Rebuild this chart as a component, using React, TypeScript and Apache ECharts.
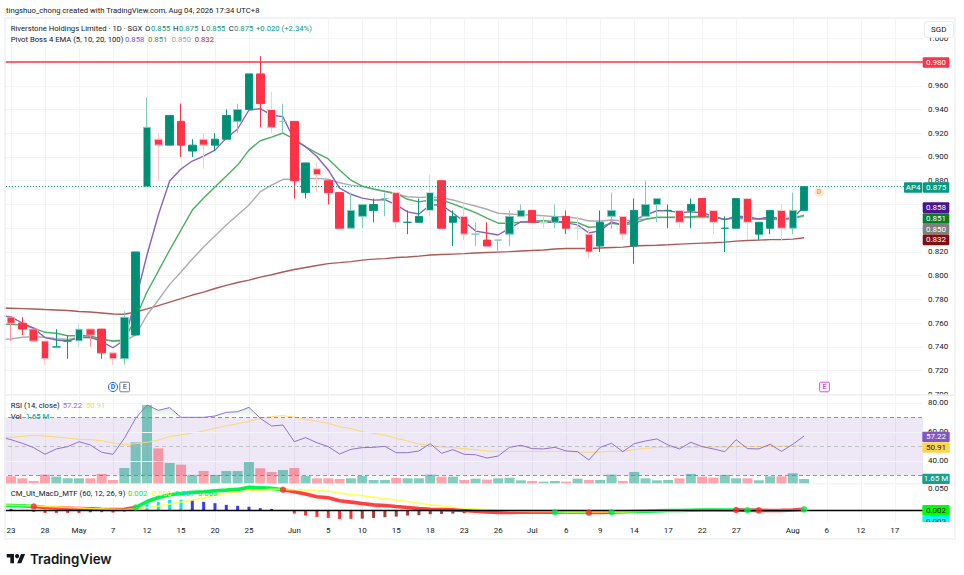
import { useEffect, useRef } from "react";
import * as echarts from "echarts";

const FONT = 'Roboto, "Noto Sans", sans-serif';
const INK = "#131722";
const GRID_LINE = "#f3f4f6";
const FRAME = "#f0f1f4";
const UP = "#008f75";
const DOWN = "#ff3347";
const UP_WICKS = ["#bfe5df", "#7fccbf", "#089981"];
const DOWN_WICKS = ["#ffc9cf", "#ff929d", "#ff3347"];

// the canvas starts this far left of the page, so the lead-in session can hang off the edge
const BLEED = 6;

// category 0 is the session just left of the window, only the lines reach into it
const xTickIndex = [1, 4, 7, 10, 13, 16, 19, 22, 26, 29, 32, 35, 38, 41, 44, 47, 50, 53, 56, 59, 62, 65, 70, 73, 76, 79];
const xTickLabels = ["23", "28", "May", "7", "12", "15", "20", "25", "Jun", "5", "10", "15", "18", "23", "26", "Jul", "6", "9", "14", "17", "22", "27", "Aug", "6", "12", "17"];
const categories = Array.from({ length: 82 }, (_, i) => {
  const at = xTickIndex.indexOf(i);
  return at >= 0 ? xTickLabels[at] : "";
});

const opens = [0.765, 0.76, 0.755, 0.745, 0.74, 0.745, 0.745, 0.755, 0.755, 0.735, 0.73, 0.75, 0.875, 0.915, 0.91, 0.93, 0.905, 0.915, 0.91, 0.915, 0.93, 0.94, 0.97, 0.94, 0.93, 0.93, 0.87, 0.89, 0.88, 0.87, 0.84, 0.85, 0.855, 0.865, 0.87, 0.845, 0.845, 0.855, 0.88, 0.845, 0.85, 0.835, 0.83, 0.83, 0.835, 0.85, 0.855, 0.845, 0.845, 0.85, 0.84, 0.835, 0.825, 0.85, 0.85, 0.825, 0.85, 0.86, 0.855, 0.855, 0.855, 0.865, 0.855, 0.84, 0.84, 0.865, 0.835, 0.84, 0.855, 0.84, 0.855];
const closes = [0.76, 0.755, 0.745, 0.73, 0.74, 0.745, 0.755, 0.75, 0.735, 0.73, 0.765, 0.82, 0.925, 0.91, 0.935, 0.91, 0.91, 0.91, 0.915, 0.935, 0.94, 0.97, 0.945, 0.925, 0.93, 0.88, 0.895, 0.885, 0.87, 0.84, 0.855, 0.86, 0.86, 0.865, 0.845, 0.845, 0.85, 0.87, 0.84, 0.85, 0.835, 0.835, 0.825, 0.83, 0.85, 0.855, 0.845, 0.845, 0.85, 0.84, 0.84, 0.82, 0.845, 0.855, 0.835, 0.855, 0.86, 0.865, 0.855, 0.845, 0.86, 0.85, 0.845, 0.84, 0.865, 0.845, 0.845, 0.855, 0.84, 0.855, 0.875];
const lows = [0.745, 0.75, 0.745, 0.725, 0.74, 0.73, 0.74, 0.74, 0.73, 0.725, 0.725, 0.75, 0.875, 0.88, 0.91, 0.9, 0.9, 0.89, 0.905, 0.915, 0.92, 0.94, 0.925, 0.92, 0.92, 0.865, 0.865, 0.87, 0.86, 0.84, 0.84, 0.84, 0.845, 0.85, 0.84, 0.835, 0.845, 0.85, 0.84, 0.825, 0.83, 0.825, 0.825, 0.82, 0.825, 0.85, 0.845, 0.84, 0.84, 0.835, 0.83, 0.815, 0.82, 0.84, 0.83, 0.81, 0.85, 0.845, 0.84, 0.84, 0.84, 0.85, 0.835, 0.82, 0.84, 0.83, 0.83, 0.835, 0.83, 0.835, 0.855];
const highs = [0.765, 0.765, 0.755, 0.745, 0.755, 0.75, 0.76, 0.755, 0.755, 0.735, 0.77, 0.82, 0.95, 0.92, 0.935, 0.945, 0.915, 0.92, 0.92, 0.94, 0.945, 0.97, 0.985, 0.955, 0.945, 0.93, 0.895, 0.895, 0.88, 0.87, 0.87, 0.86, 0.865, 0.87, 0.87, 0.855, 0.865, 0.885, 0.88, 0.855, 0.86, 0.845, 0.845, 0.83, 0.855, 0.86, 0.855, 0.85, 0.86, 0.855, 0.85, 0.84, 0.855, 0.87, 0.85, 0.865, 0.88, 0.865, 0.86, 0.855, 0.865, 0.865, 0.855, 0.85, 0.865, 0.865, 0.845, 0.855, 0.86, 0.87, 0.875];
// how strong each wick prints in the picture: 0 pale, 1 medium, 2 full colour
const wickTone = [1, 2, 1, 0, 2, 2, 0, 1, 2, 0, 1, 2, 1, 0, 2, 2, 2, 0, 2, 2, 1, 2, 2, 0, 1, 2, 2, 0, 2, 2, 1, 1, 2, 1, 0, 2, 2, 0, 2, 2, 0, 1, 2, 1, 1, 1, 2, 0, 1, 2, 0, 0, 2, 1, 0, 2, 1, 1, 2, 0, 2, 2, 0, 2, 2, 0, 2, 2, 0, 1, 2];
const volumes = [2.67, 1.9, 0.89, 3.3, 2.54, 1.9, 1.9, 1.9, 3.56, 1.27, 5.84, 15.6, 29.8, 13.3, 7.75, 7.11, 3.18, 4.7, 3.18, 4.7, 4.7, 8.51, 5.72, 4.32, 5.08, 5.84, 2.79, 1.9, 1.9, 1.65, 1.9, 2.79, 1.27, 1.27, 2.03, 1.9, 1.9, 3.3, 2.54, 2.54, 1.27, 1.78, 1.4, 1.9, 2.16, 1.14, 0.89, 0.64, 0.89, 0.64, 1.78, 1.27, 1.27, 3.3, 0.89, 4.32, 1.9, 1.14, 1.27, 1.9, 3.56, 2.54, 2.16, 3.18, 1.9, 1.9, 1.14, 2.67, 2.67, 3.81, 1.65];

const ema5 = [0.7665, 0.7653, 0.76, 0.7559, 0.7478, 0.7458, 0.745, 0.7478, 0.7483, 0.7444, 0.7393, 0.7458, 0.7795, 0.8174, 0.8511, 0.8797, 0.8899, 0.8966, 0.9008, 0.9058, 0.9159, 0.9236, 0.9396, 0.9407, 0.9353, 0.9339, 0.9143, 0.9087, 0.9004, 0.8891, 0.8738, 0.8686, 0.8654, 0.8637, 0.864, 0.8596, 0.8538, 0.852, 0.8596, 0.8596, 0.8528, 0.8456, 0.8376, 0.836, 0.8343, 0.8401, 0.8453, 0.8451, 0.8448, 0.8453, 0.8445, 0.8428, 0.836, 0.838, 0.8453, 0.8428, 0.847, 0.8511, 0.8547, 0.8547, 0.8531, 0.8539, 0.8528, 0.8503, 0.847, 0.8503, 0.8495, 0.8479, 0.8495, 0.8479, 0.8487, 0.858];
const ema10 = [0.7592, 0.759, 0.7584, 0.7559, 0.7523, 0.7515, 0.7494, 0.7494, 0.7494, 0.7464, 0.745, 0.7458, 0.7643, 0.7863, 0.8039, 0.8216, 0.8384, 0.8553, 0.8654, 0.8747, 0.8839, 0.8932, 0.9058, 0.9137, 0.9168, 0.9202, 0.9151, 0.9085, 0.9033, 0.8984, 0.8891, 0.8805, 0.8755, 0.8732, 0.8711, 0.8694, 0.8644, 0.8622, 0.8638, 0.8638, 0.8605, 0.8568, 0.8531, 0.8485, 0.8442, 0.8442, 0.8451, 0.8461, 0.8463, 0.8458, 0.8455, 0.8447, 0.8408, 0.8413, 0.8442, 0.8428, 0.8442, 0.8475, 0.8492, 0.8492, 0.8492, 0.8497, 0.8503, 0.8497, 0.8475, 0.8492, 0.8486, 0.8479, 0.8484, 0.8475, 0.8484, 0.851];
const ema20 = [0.7465, 0.7467, 0.7481, 0.7486, 0.7481, 0.7469, 0.7464, 0.7481, 0.7475, 0.7464, 0.745, 0.745, 0.7499, 0.7669, 0.7795, 0.7927, 0.8031, 0.814, 0.8242, 0.8334, 0.8427, 0.8511, 0.8595, 0.8708, 0.8763, 0.8812, 0.8814, 0.8817, 0.882, 0.8812, 0.8783, 0.8763, 0.875, 0.8728, 0.8708, 0.8688, 0.8665, 0.866, 0.8663, 0.8657, 0.8638, 0.8611, 0.8587, 0.856, 0.8526, 0.852, 0.8514, 0.8511, 0.8505, 0.8497, 0.8497, 0.8484, 0.8461, 0.8461, 0.8469, 0.8461, 0.8469, 0.8478, 0.8489, 0.8489, 0.8492, 0.8489, 0.8492, 0.8489, 0.8475, 0.8484, 0.8478, 0.8475, 0.8475, 0.8469, 0.8484, 0.85];
const ema100 = [0.7728, 0.7726, 0.7723, 0.772, 0.7715, 0.7711, 0.7707, 0.7698, 0.7694, 0.7686, 0.7677, 0.7675, 0.7694, 0.772, 0.7748, 0.7778, 0.7807, 0.7837, 0.7862, 0.7892, 0.7918, 0.7943, 0.7963, 0.7988, 0.8008, 0.8031, 0.8052, 0.8069, 0.8086, 0.8102, 0.811, 0.8119, 0.8131, 0.814, 0.8144, 0.8153, 0.8157, 0.8165, 0.8174, 0.8178, 0.8182, 0.8186, 0.8191, 0.8195, 0.8199, 0.8203, 0.8208, 0.8212, 0.8216, 0.8225, 0.8229, 0.8229, 0.8229, 0.8233, 0.8237, 0.8241, 0.825, 0.8254, 0.8257, 0.8261, 0.8266, 0.827, 0.8274, 0.8278, 0.8283, 0.8291, 0.8296, 0.83, 0.8304, 0.8304, 0.8308, 0.832];

const rsi = [56.5, 54.7, 52.2, 49.2, 44.6, 48.3, 49.9, 53.3, 51, 46, 44.6, 55.6, 69.4, 78.6, 74.9, 76.8, 70.1, 70.1, 70.1, 71, 73.5, 74, 77, 69.4, 64.1, 64.8, 53.3, 56.1, 52.6, 49.9, 44.8, 48, 49.2, 49.4, 50.1, 45.7, 45.7, 46.9, 51.9, 45.3, 47.8, 44.6, 44.3, 42, 43.4, 49.4, 50.8, 48.5, 48.3, 49.4, 46.9, 46.4, 40.7, 49.4, 52.2, 46.4, 51.9, 53.8, 55.2, 51, 48.3, 52.9, 49.9, 48.3, 46.4, 54.7, 48.5, 48.3, 51.5, 46.6, 51.5, 57.22];
const rsiMa = [56, 56.3, 57, 57.7, 57.2, 56.5, 55.8, 54.9, 54.7, 54, 52.4, 51.2, 51.9, 52.9, 54.5, 56.8, 57.9, 59.3, 60.7, 62.5, 64.3, 65.7, 67.3, 69.4, 70.6, 71.2, 70.3, 68.7, 67.3, 66, 63.7, 62.3, 60.2, 59, 57.9, 55.6, 53.8, 51.7, 50.8, 49.6, 49.2, 48.5, 47.8, 46.9, 46.6, 46.6, 46.6, 46.6, 46.6, 46.6, 46.6, 46.2, 46, 46.2, 46.6, 46.6, 47.8, 48.7, 49.4, 49.4, 49.4, 49.4, 49.6, 49.6, 49.6, 49.9, 49.9, 49.9, 50.1, 50.1, 50.3, 50.91];

const macd = [0.0115, 0.011, 0.0102, 0.0086, 0.0063, 0.0055, 0.0047, 0.0039, 0.0031, 0.0023, 0.0016, 0.0023, 0.0063, 0.0203, 0.0297, 0.036, 0.0391, 0.0415, 0.043, 0.0454, 0.0469, 0.0485, 0.0532, 0.0524, 0.0509, 0.0477, 0.043, 0.0376, 0.0313, 0.029, 0.0219, 0.0188, 0.0156, 0.0125, 0.011, 0.0086, 0.0063, 0.0039, 0.0023, 0.0016, 0.0008, -0.0008, -0.0023, -0.0039, -0.0055, -0.0055, -0.0047, -0.0047, -0.0047, -0.0047, -0.0047, -0.0047, -0.0055, -0.0055, -0.0047, -0.0039, -0.0031, -0.0023, -0.0016, -0.0008, -0.0008, 0, 0.0004, 0.0006, 0.0006, 0.0004, 0, -0.0004, -0.0006, -0.0004, 0.0006, 0.002];
const macdSignal = [0.012, 0.0117, 0.011, 0.0102, 0.0086, 0.0078, 0.0063, 0.0055, 0.0039, 0.0031, 0.0023, 0.0016, 0.0031, 0.0063, 0.0094, 0.0141, 0.0188, 0.0235, 0.0282, 0.0352, 0.0391, 0.0423, 0.0454, 0.0469, 0.0485, 0.0485, 0.0477, 0.0469, 0.0462, 0.0446, 0.0399, 0.0368, 0.0336, 0.0305, 0.0266, 0.0235, 0.0203, 0.0164, 0.0125, 0.0094, 0.007, 0.0047, 0.0031, 0.0016, 0, -0.0016, -0.0023, -0.0031, -0.0031, -0.0031, -0.0039, -0.0039, -0.0039, -0.0039, -0.0039, -0.0039, -0.0031, -0.0023, -0.0023, -0.0016, -0.0016, -0.0008, -0.0008, -0.0008, 0, 0, 0, 0, 0, 0, 0, 0];
const macdHist = [0.0035, 0.003, 0.0005, -0.0039, -0.0063, -0.0063, -0.0063, -0.0063, -0.0047, -0.0047, -0.0055, -0.0031, 0.0086, 0.0141, 0.0196, 0.0243, 0.0243, 0.0235, 0.0196, 0.0164, 0.0125, 0.0102, 0.0078, 0.0047, 0.0031, 0, -0.0078, -0.0125, -0.0156, -0.018, -0.0203, -0.0203, -0.0196, -0.018, -0.0164, -0.0149, -0.0125, -0.0117, -0.0094, -0.0086, -0.0078, -0.007, -0.0063, -0.0063, -0.0078, -0.0055, -0.0031, -0.0008, -0.0005, 0.0003, 0.0004, 0.0003, -0.0004, 0.0002, 0.0004, 0.0003, 0.0005, 0.0004, 0.0005, 0.0008, 0.0004, 0.0008, 0.0005, 0.0004, 0.0002, -0.0003, 0.0003, -0.0003, -0.0002, 0.0001, 0.0005, 0.001];
const macdCrossIndex = [3, 12, 25, 49, 52, 54, 65, 66, 67, 71];
const macdCrossUp = [false, true, false, true, false, true, false, true, false, true];

// these price ticks sit right behind a tag on the axis
const hiddenPriceTicks = ["0.980", "0.860", "0.840"];

echarts.graphic.registerShape(
  "tvlogo",
  echarts.graphic.extendPath("M14 22H7V11H0V4h14v18zM28 22h-8l7.5-18h8L28 22z", {}),
);

function priceTag(x: number, y: number, w: number, h: number, fill: string, label: string, color = "#fff") {
  return [
    { type: "rect", z: 100, shape: { x, y, width: w, height: h, r: 1 }, style: { fill } },
    {
      type: "text",
      z: 101,
      x: x + w / 2,
      y: y + h / 2,
      style: { text: label, fill: color, font: `8px ${FONT}`, align: "center", verticalAlign: "middle" },
    },
  ];
}

function legendText(x: number, y: number, text: string, fill = INK) {
  return {
    type: "text",
    z: 90,
    x,
    y,
    style: { text, fill, font: `7.7px ${FONT}`, verticalAlign: "middle" },
  };
}

function badge(x: number, y: number, label: string, stroke: string, round: boolean) {
  const shape = round
    ? { type: "circle", shape: { cx: x, cy: y, r: 4.6 }, style: { fill: "#fff", stroke, lineWidth: 1 }, z: 80 }
    : { type: "rect", shape: { x: x - 4.8, y: y - 4.8, width: 9.6, height: 9.6, r: 1 }, style: { fill: "#fff", stroke, lineWidth: 1 }, z: 80 };
  return [
    shape,
    { type: "text", z: 81, x, y, style: { text: label, fill: stroke, font: `bold 7px ${FONT}`, align: "center", verticalAlign: "middle" } },
  ];
}

// drawn in page coordinates, the group below moves it by BLEED
const overlay = [
  // left gutter, the panes start at x = 5
  { type: "rect", z: 60, shape: { x: -BLEED, y: 14, width: BLEED + 4.4, height: 530 }, style: { fill: "#fff" } },
  // the 0.700 label is cut by the pane edge
  { type: "rect", z: 60, shape: { x: 924, y: 395.4, width: 30, height: 3.2 }, style: { fill: "#fff" } },
  { type: "rect", z: 61, shape: { x: 5, y: 18, width: 950, height: 521 }, style: { fill: "none", stroke: FRAME, lineWidth: 1.5 } },
  { type: "line", z: 61, shape: { x1: 5, y1: 395, x2: 955, y2: 395 }, style: { stroke: FRAME, lineWidth: 1.5 } },
  { type: "line", z: 0, shape: { x1: 5, y1: 483.8, x2: 955, y2: 483.8 }, style: { stroke: FRAME, lineWidth: 1 } },

  legendText(6, 10.5, "tingshuo_chong created with TradingView.com, Aug 04, 2026 17:34 UTC+8"),

  legendText(10.7, 28, "Riverstone Holdings Limited · 1D · SGX"),
  legendText(145, 28, "O"), legendText(151, 28, "0.855", "#089981"),
  legendText(173, 28, "H"), legendText(179, 28, "0.875", "#089981"),
  legendText(201.5, 28, "L"), legendText(206, 28, "0.855", "#089981"),
  legendText(228.7, 28, "C"), legendText(234, 28, "0.875", "#089981"),
  legendText(256, 28, "+0.020 (+2.34%)", "#089981"),

  legendText(10.7, 39, "Pivot Boss 4 EMA (5, 10, 20, 100)"),
  legendText(125, 39, "0.858", "#7e57c2"),
  legendText(148, 39, "0.851", "#2e9e4f"),
  legendText(171.7, 39, "0.850", "#a6a6a6"),
  legendText(194.7, 39, "0.832", "#a83232"),

  legendText(10.7, 405.5, "RSI (14, close)"),
  legendText(62.7, 405.5, "57.22", "#8e6fd0"),
  legendText(86, 405.5, "50.91", "#f9d65c"),
  legendText(10.7, 416, "Vol"),
  legendText(25.7, 416, "1.65 M", "#089981"),

  legendText(10.7, 493, "CM_Ult_MacD_MTF (60, 12, 26, 9)"),
  legendText(128, 493, "0.002", "#00e84a"),
  legendText(152, 493, "0.000", "#f4f400"),
  legendText(175, 493, "0.001", "#00e8e8"),
  legendText(198, 493, "0.000", "#00e84a"),

  ...badge(113, 387, "D", "#2962ff", true),
  ...badge(124.6, 387, "E", "#787b86", false),
  ...badge(824.5, 387, "E", "#d64fd6", false),
  { type: "circle", z: 80, shape: { cx: 819, cy: 192, r: 5 }, style: { fill: "#ffe9d2" } },
  { type: "text", z: 81, x: 819, y: 192, style: { text: "D", fill: "#ff9a2e", font: `bold 7px ${FONT}`, align: "center", verticalAlign: "middle" } },

  { type: "rect", z: 100, shape: { x: 924.3, y: 21.7, width: 29, height: 15.6, r: 2 }, style: { fill: "#fff", stroke: "#e6e8ee", lineWidth: 1 } },
  { type: "text", z: 101, x: 938.8, y: 29.5, style: { text: "SGD", fill: INK, font: `8px ${FONT}`, align: "center", verticalAlign: "middle" } },

  ...priceTag(922.7, 57.3, 26.6, 10.4, "#ff3347", "0.980"),
  ...priceTag(904, 182.3, 18.4, 10.4, "#089981", "AP4"),
  ...priceTag(923, 182.3, 26.3, 10.4, "#089981", "0.875"),
  ...priceTag(922.7, 202.3, 26.6, 10.6, "#4a148c", "0.858"),
  ...priceTag(922.7, 213.2, 26.6, 10.6, "#0b7d26", "0.851"),
  ...priceTag(922.7, 224, 26.6, 10.6, "#808080", "0.850"),
  ...priceTag(922.7, 234.6, 26.6, 10.6, "#801010", "0.832"),

  ...priceTag(922.3, 431.7, 27.4, 10.4, "#7e57c2", "57.22"),
  ...priceTag(922.3, 442.2, 27.4, 10.6, "#ffd54f", "50.91", INK),
  ...priceTag(922.3, 473.7, 27.4, 10.2, "#15a090", "1.65 M"),

  ...priceTag(922.3, 516, 27.4, 10.6, "#00ffff", "0.002", INK),
  ...priceTag(922.3, 505, 27.4, 10.8, "#00ff00", "0.002", INK),
  { type: "rect", z: 102, shape: { x: 920, y: 522, width: 33, height: 16 }, style: { fill: "#fff" } },

  { type: "tvlogo", z: 90, x: 6.7, y: 551.9, scaleX: 0.52, scaleY: 0.52, style: { fill: "#131722" } },
  { type: "circle", z: 90, shape: { cx: 17.1, cy: 556.1, r: 2.1 }, style: { fill: "#131722" } },
  {
    type: "text",
    z: 90,
    x: 30,
    y: 558.6,
    style: { text: "TradingView", fill: "#131722", font: `600 13.4px Inter, ${FONT}`, verticalAlign: "middle" },
  },
];

function emaSeries(name: string, data: number[], color: string) {
  return {
    name,
    type: "line",
    data,
    z: 2,
    xAxisIndex: 0,
    yAxisIndex: 0,
    showSymbol: false,
    silent: true,
    lineStyle: { width: 1.4, color },
  };
}

function axisX(gridIndex: number, showLabels: boolean) {
  return {
    type: "category",
    gridIndex,
    data: categories,
    boundaryGap: true,
    axisLine: { show: false },
    axisTick: { show: false },
    axisLabel: showLabels
      ? { show: true, interval: 0, color: INK, fontSize: 8, fontFamily: FONT, margin: 4.5 }
      : { show: false },
    splitLine: {
      show: true,
      alignWithLabel: true,
      interval: (index: number) => categories[index] !== "",
      lineStyle: { color: GRID_LINE, width: 1 },
    },
  };
}

function buildOption() {
  const candleData = [
    "-",
    ...opens.map((open, i) => {
      const wick = (closes[i] >= open ? UP_WICKS : DOWN_WICKS)[wickTone[i]];
      const body = closes[i] >= open ? UP : DOWN;
      return {
        value: [open, closes[i], lows[i], highs[i]],
        itemStyle: {
          color: body,
          color0: body,
          borderColor: wick,
          borderColor0: wick,
          borderColorDoji: wick,
        },
      };
    }),
  ];

  const volumeData = [
    null,
    ...volumes.map((value, i) => ({
      value,
      itemStyle: { color: closes[i] >= opens[i] ? "rgba(8,153,129,0.5)" : "rgba(255,51,71,0.45)" },
    })),
  ];

  const histData = macdHist.map((value, i) => {
    const previous = i > 0 ? macdHist[i - 1] : 0;
    let color = "#ff3030";
    if (value >= 0) color = value >= previous ? "#00e8f0" : "#3a3af0";
    else if (value > previous) color = "#a83a3a";
    return { value, itemStyle: { color } };
  });
  // nothing of the lead-in session's histogram shows
  histData[0] = { value: 0, itemStyle: { color: "#fff" } };

  const macdRising = macd.map((_, i) => {
    let rising = true;
    macdCrossIndex.forEach((at, c) => {
      if (at <= i) rising = macdCrossUp[c];
    });
    return rising;
  });
  const macdGreen = macd.map((v, i) => (macdRising[i] || macdRising[i - 1] ? v : null));
  const macdRed = macd.map((v, i) => (!macdRising[i] || macdRising[i - 1] === false ? v : null));
  const crossPoints = macdCrossIndex.map((at, c) => ({
    value: [at, macd[at]],
    itemStyle: { color: macdCrossUp[c] ? "#00e84a" : "#ff2a2a" },
  }));

  const overBase = rsi.map((_, i) => (i >= 12 && i <= 23 ? 70 : null));
  const overFill = rsi.map((v, i) => (i >= 12 && i <= 23 ? Math.max(v - 70, 0) : null));

  const grids = [
    { left: 0.03, top: 18, width: 929.06, height: 376.4 },
    { left: 0.03, top: 395, width: 929.06, height: 88.3 },
    { left: 0.03, top: 484, width: 929.06, height: 38 },
  ];

  const rsiLine = (value: number, dashed: boolean) => ({
    yAxis: value,
    lineStyle: dashed
      ? { color: "#787b86", type: [4, 3], width: 0.8 }
      : { color: GRID_LINE, type: "solid", width: 1 },
  });

  return {
    animation: false,
    textStyle: { fontFamily: FONT },
    grid: grids,
    xAxis: [axisX(0, false), axisX(1, false), axisX(2, true)],
    yAxis: [
      {
        type: "value",
        gridIndex: 0,
        position: "right",
        min: 0.7,
        max: 1.0171,
        interval: 0.02,
        axisLine: { show: false },
        axisTick: { show: false },
        axisLabel: {
          color: INK,
          fontSize: 8,
          fontFamily: FONT,
          margin: 5,
          showMaxLabel: false,
          formatter: (v: number) => {
            const text = v.toFixed(3);
            return v > 1.01 || hiddenPriceTicks.includes(text) ? "" : text;
          },
        },
        splitLine: { show: true, lineStyle: { color: GRID_LINE, width: 1 } },
      },
      {
        type: "value",
        gridIndex: 1,
        position: "right",
        min: 24.6,
        max: 85.5,
        axisLine: { show: false },
        axisTick: { show: false },
        splitLine: { show: false },
        axisLabel: {
          color: INK,
          fontSize: 8,
          fontFamily: FONT,
          margin: 5,
          customValues: [80, 60, 40],
          formatter: (v: number) => v.toFixed(2),
        },
      },
      { type: "value", gridIndex: 1, min: 0, max: 33.65, show: false },
      {
        type: "value",
        gridIndex: 2,
        position: "right",
        min: -0.0275,
        max: 0.0611,
        axisLine: { show: false },
        axisTick: { show: false },
        splitLine: { show: false },
        axisLabel: {
          color: INK,
          fontSize: 8,
          fontFamily: FONT,
          margin: 5,
          customValues: [0.05],
          formatter: (v: number) => v.toFixed(3),
        },
      },
    ],
    series: [
      emaSeries("EMA 100", ema100, "#ab5a58"),
      emaSeries("EMA 20", ema20, "#adadad"),
      emaSeries("EMA 10", ema10, "#4caf62"),
      emaSeries("EMA 5", ema5, "#8a63b8"),
      {
        name: "Riverstone",
        type: "candlestick",
        data: candleData,
        z: 3,
        barWidth: 8,
        xAxisIndex: 0,
        yAxisIndex: 0,
        silent: true,
        itemStyle: { borderWidth: 1 },
        markLine: {
          silent: true,
          symbol: "none",
          precision: 4,
          label: { show: false },
          data: [
            { yAxis: 0.98, lineStyle: { color: "#ff3347", type: "solid", width: 1.6 } },
            { yAxis: 0.875, lineStyle: { color: "#089981", type: [1, 2], width: 1 } },
          ],
        },
      },
      {
        name: "Vol",
        type: "bar",
        data: volumeData,
        z: 3,
        barWidth: 10,
        xAxisIndex: 1,
        yAxisIndex: 2,
        silent: true,
      },
      {
        name: "RSI band",
        type: "line",
        data: overBase,
        stack: "over",
        z: 1,
        xAxisIndex: 1,
        yAxisIndex: 1,
        showSymbol: false,
        silent: true,
        lineStyle: { width: 0 },
      },
      {
        name: "RSI over",
        type: "line",
        data: overFill,
        stack: "over",
        z: 1,
        xAxisIndex: 1,
        yAxisIndex: 1,
        showSymbol: false,
        silent: true,
        lineStyle: { width: 0 },
        areaStyle: {
          color: new echarts.graphic.LinearGradient(0, 0, 0, 1, [
            { offset: 0, color: "rgba(76,175,80,0.35)" },
            { offset: 1, color: "rgba(76,175,80,0.03)" },
          ]),
        },
      },
      {
        name: "RSI MA",
        type: "line",
        data: rsiMa,
        z: 4,
        xAxisIndex: 1,
        yAxisIndex: 1,
        showSymbol: false,
        silent: true,
        lineStyle: { width: 1, color: "#fdd96a" },
      },
      {
        name: "RSI",
        type: "line",
        data: rsi,
        z: 5,
        xAxisIndex: 1,
        yAxisIndex: 1,
        showSymbol: false,
        silent: true,
        lineStyle: { width: 1, color: "#9073cc" },
        markArea: {
          silent: true,
          itemStyle: { color: "rgba(126,87,194,0.14)" },
          data: [[{ yAxis: 30 }, { yAxis: 70 }]],
        },
        markLine: {
          silent: true,
          symbol: "none",
          label: { show: false },
          data: [
            rsiLine(80, false),
            rsiLine(60, false),
            rsiLine(40, false),
            rsiLine(70, true),
            { yAxis: 50, lineStyle: { color: "#b2b5be", type: [4, 3], width: 0.8 } },
            rsiLine(30, true),
          ],
        },
      },
      {
        name: "Histogram",
        type: "bar",
        data: histData,
        z: 2,
        barWidth: 3,
        xAxisIndex: 2,
        yAxisIndex: 3,
        silent: true,
        markLine: {
          silent: true,
          symbol: "none",
          label: { show: false },
          data: [{ yAxis: 0, lineStyle: { color: "#000", type: "solid", width: 1.4 } }],
        },
      },
      {
        name: "MACD up",
        type: "line",
        data: macdGreen,
        z: 3,
        xAxisIndex: 2,
        yAxisIndex: 3,
        showSymbol: false,
        silent: true,
        lineStyle: { width: 3.6, color: "#00f44a", cap: "butt" },
      },
      {
        name: "MACD down",
        type: "line",
        data: macdRed,
        z: 3,
        xAxisIndex: 2,
        yAxisIndex: 3,
        showSymbol: false,
        silent: true,
        lineStyle: { width: 3.6, color: "#ff4040", cap: "butt" },
      },
      {
        name: "Signal",
        type: "line",
        data: macdSignal,
        z: 4,
        xAxisIndex: 2,
        yAxisIndex: 3,
        showSymbol: false,
        silent: true,
        lineStyle: { width: 1.6, color: "#ffff33", opacity: 0.8 },
      },
      {
        name: "Cross",
        type: "scatter",
        data: crossPoints,
        z: 5,
        symbolSize: 6.5,
        xAxisIndex: 2,
        yAxisIndex: 3,
        silent: true,
      },
    ],
    graphic: { elements: [{ type: "group", x: BLEED, y: 0, children: overlay }] },
  };
}

export default function App() {
  const reference = useRef<HTMLDivElement>(null);

  useEffect(() => {
    const element = reference.current;
    if (element === null) return;
    document.body.style.margin = "0";
    document.body.style.overflow = "hidden";
    const chart = echarts.init(element, undefined, { renderer: "svg" });
    chart.setOption(buildOption());
    return () => {
      chart.dispose();
    };
  }, []);

  return (
    <div
      ref={reference}
      style={{ position: "absolute", left: -BLEED, top: 0, width: 964 + BLEED, height: 575, background: "#fff" }}
    />
  );
}
